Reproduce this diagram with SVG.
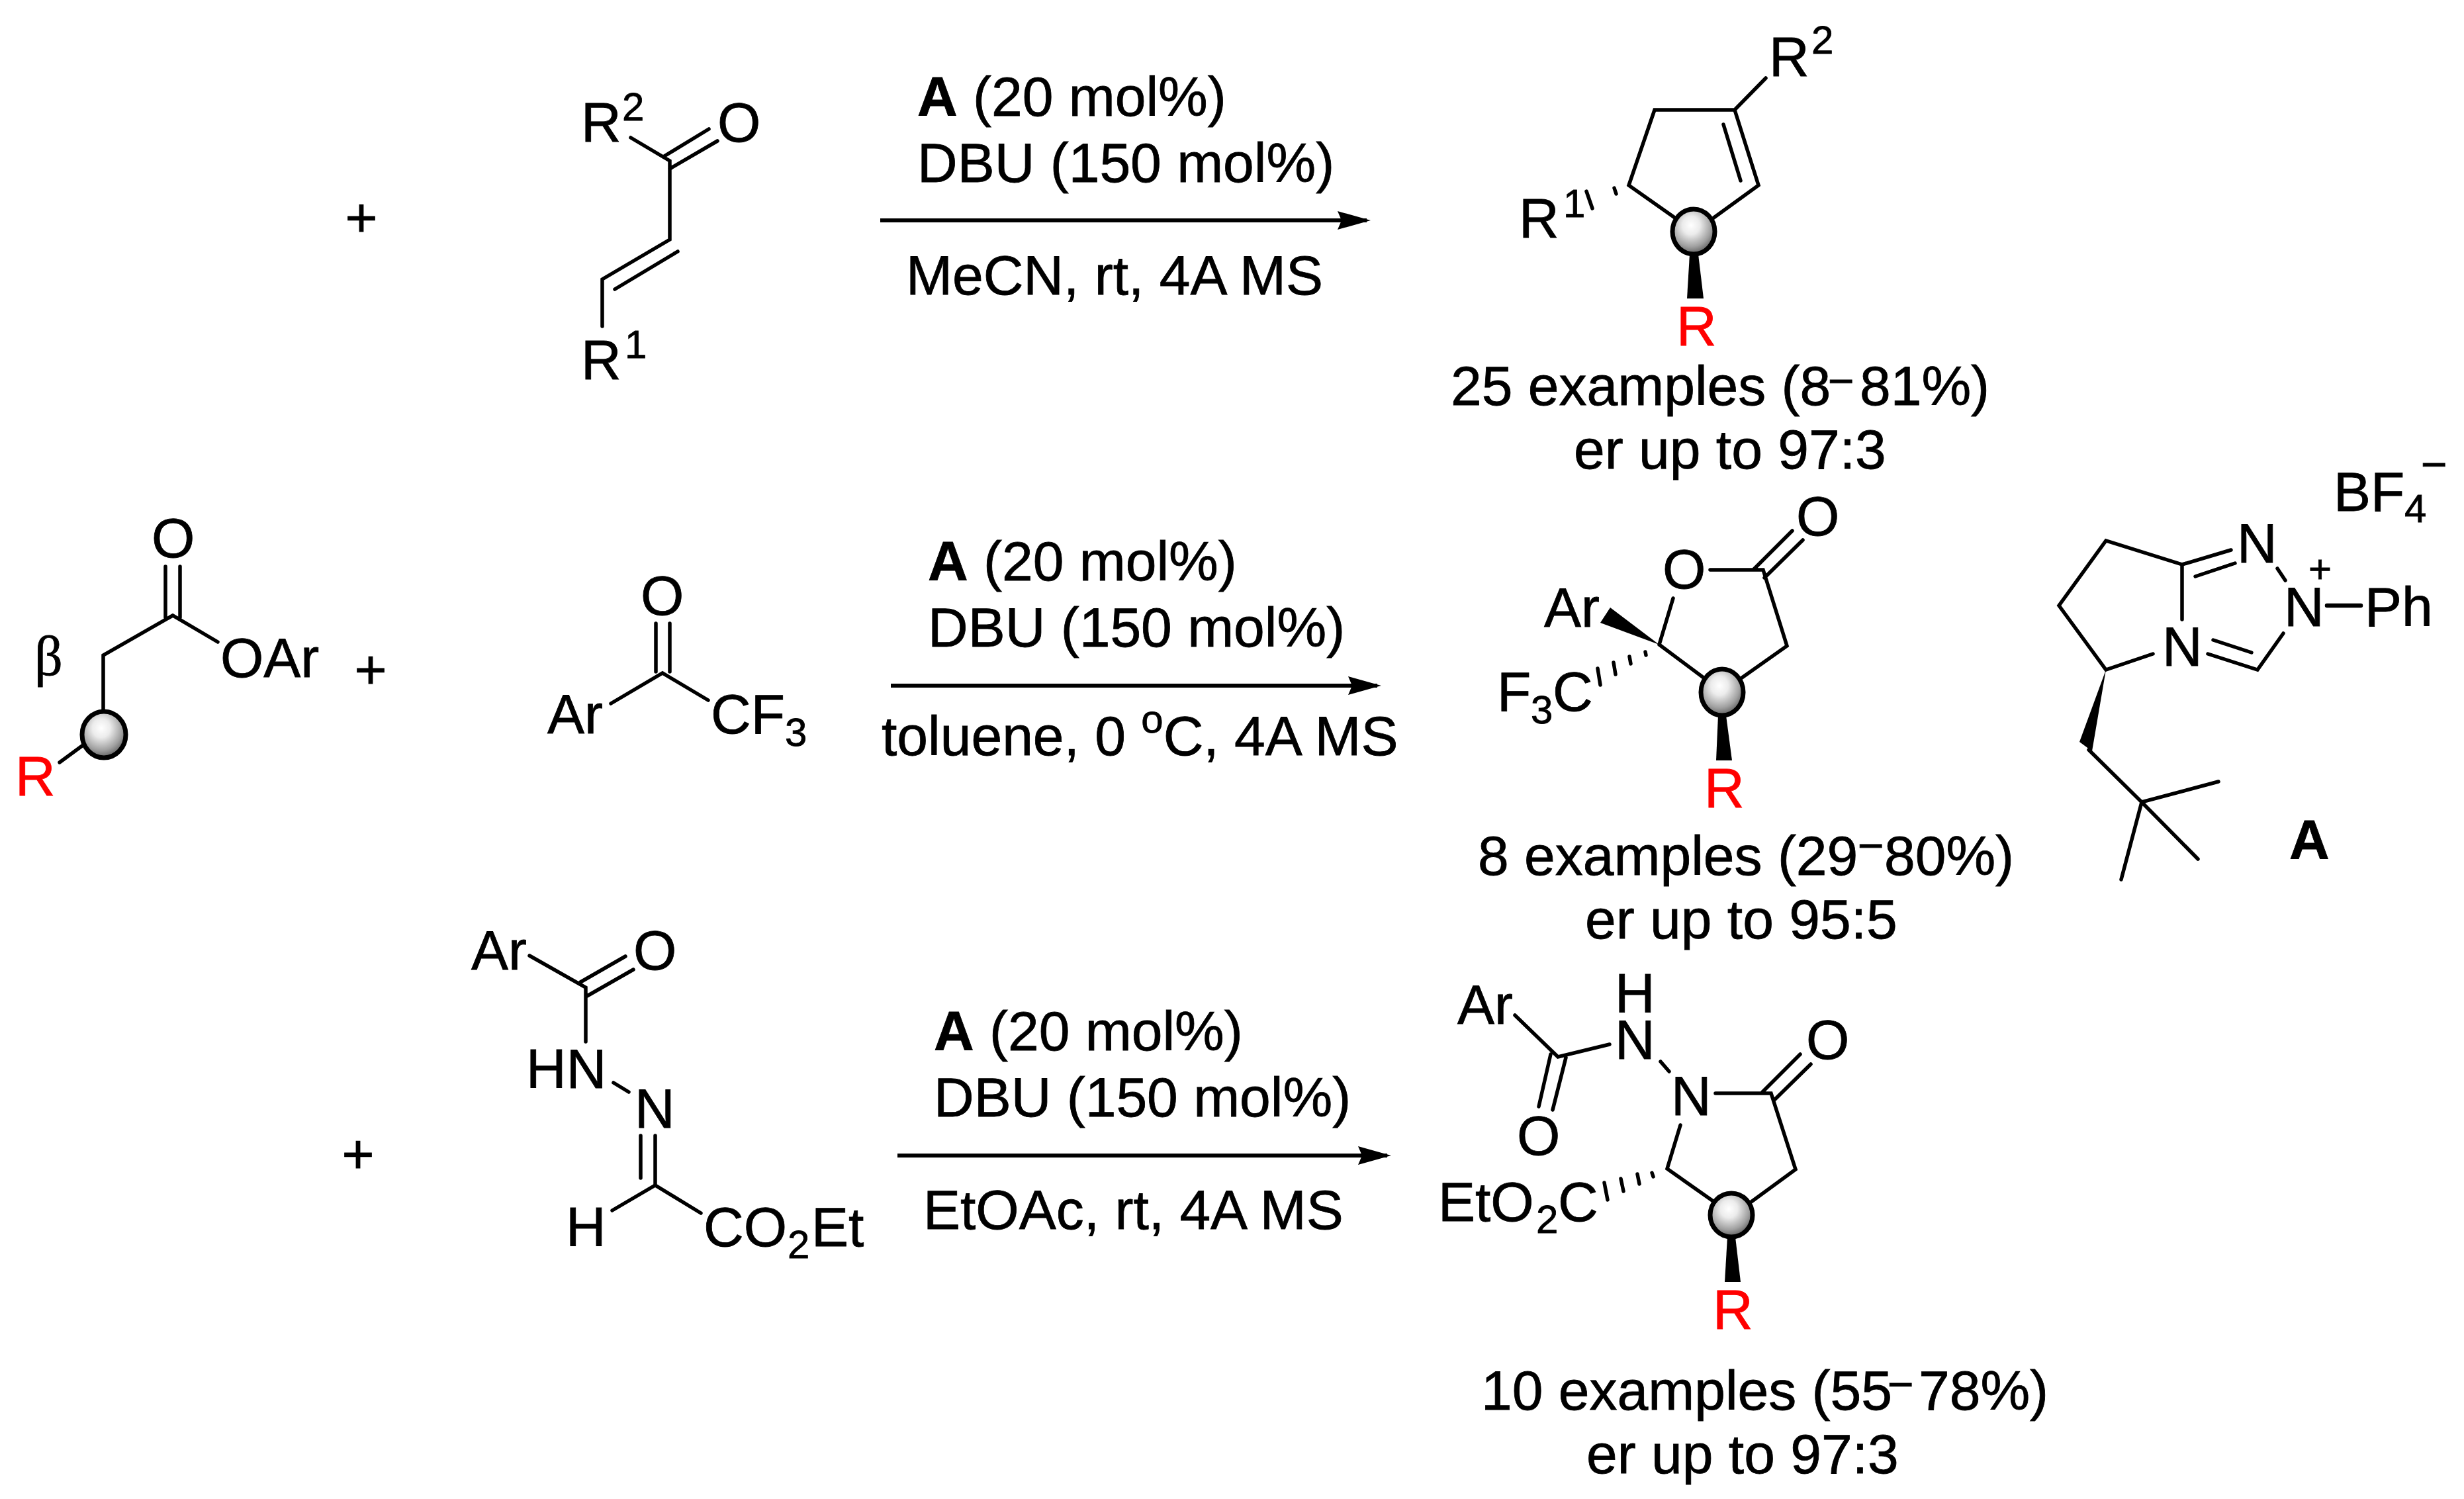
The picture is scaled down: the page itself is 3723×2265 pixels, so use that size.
<svg xmlns="http://www.w3.org/2000/svg" width="3723" height="2265" viewBox="0 0 3723 2265">
<style>
text{font-family:"Liberation Sans",Arial,sans-serif;font-size:84px;fill:#000;stroke:#000;stroke-width:.8}
.b{font-weight:bold}
.s{font-size:60px}
.m{font-size:68px}
.r{fill:#f00;stroke:#f00}
.g{font-family:"Liberation Serif","DejaVu Serif",serif}
.bond{stroke:#000;stroke-width:5.5;stroke-linecap:round;fill:none}
.ball{fill:url(#ballg);stroke:#000;stroke-width:7}
.arr{stroke:#000;stroke-width:6;fill:none;marker-end:url(#head)}
</style>
<defs>
<radialGradient id="ballg" cx="0.44" cy="0.36" r="0.68">
<stop offset="0" stop-color="#fff"/><stop offset="0.3" stop-color="#ececec"/><stop offset="0.7" stop-color="#a0a0a0"/><stop offset="1" stop-color="#505050"/>
</radialGradient>
<marker id="head" markerUnits="userSpaceOnUse" markerWidth="60" markerHeight="40" refX="44" refY="20" orient="auto">
<path d="M0,6 L50,20 L0,34 L6,20 Z" fill="#000"/>
</marker>
</defs>
<rect width="3723" height="2265" fill="#fff"/>

<g id="connectors">
<path class="arr" d="M1330,333H2065"/>
<path class="arr" d="M1346,1036H2081"/>
<path class="arr" d="M1356,1746H2096"/>
</g>

<g id="conditions-1">
<text x="1386" y="175"><tspan class="b">A</tspan> (20 mol%)</text>
<text x="1386" y="275">DBU (150 mol%)</text>
<text x="1369" y="445">MeCN, rt, 4A MS</text>
</g>
<g id="conditions-2">
<text x="1402" y="877"><tspan class="b">A</tspan> (20 mol%)</text>
<text x="1402" y="977">DBU (150 mol%)</text>
<text x="1332" y="1141">toluene, 0 <tspan class="s" dy="-34">o</tspan><tspan dy="34">C, 4A MS</tspan></text>
</g>
<g id="conditions-3">
<text x="1411" y="1587"><tspan class="b">A</tspan> (20 mol%)</text>
<text x="1411" y="1687">DBU (150 mol%)</text>
<text x="1395" y="1857">EtOAc, rt, 4A MS</text>
</g>

<g id="plus-1"><text x="546" y="357" text-anchor="middle">+</text></g>
<g id="plus-2"><text x="560" y="1040" text-anchor="middle">+</text></g>
<g id="plus-3"><text x="541" y="1772" text-anchor="middle">+</text></g>

<g id="beta-ester">
<path class="bond" d="M250,856V933M272,856V933M329,970L261,930L156,990V1075M124,1127L90,1152"/>
<ellipse class="ball" cx="157" cy="1110" rx="33" ry="35"/>
<text x="229" y="842">O</text>
<text x="333" y="1023">OAr</text>
<text class="g" x="52" y="1020">β</text>
<text class="r" x="23" y="1202">R</text>
</g>

<g id="enone">
<path class="bond" d="M953,208L1012,243V362L910,422V493M1002,237L1071,195M1012,255L1084,213M1024,380L929,437"/>
<text x="878" y="214">R<tspan class="s" x="940" y="182">2</tspan></text>
<text x="1084" y="214">O</text>
<text x="878" y="573">R<tspan class="s" x="944" y="541">1</tspan></text>
</g>

<g id="trifluoroketone">
<path class="bond" d="M991,942V1015M1012,942V1015M923,1063L1001,1017L1070,1058"/>
<text x="968" y="929">O</text>
<text x="827" y="1108">Ar</text>
<text x="1074" y="1108">CF<tspan class="s" x="1186" y="1127">3</tspan></text>
</g>

<g id="hydrazone">
<path class="bond" d="M800,1444L885,1492V1574M877,1484L945,1445M887,1505L957,1465M927,1636L950,1650M968,1716V1780M990,1716V1791M925,1829L990,1791L1059,1833"/>
<text x="712" y="1465">Ar</text>
<text x="957" y="1465">O</text>
<text x="795" y="1644">HN</text>
<text x="959" y="1704">N</text>
<text x="855" y="1883">H</text>
<text x="1063" y="1883">CO<tspan class="s" x="1190" y="1901">2</tspan><tspan x="1226" y="1883">Et</tspan></text>
</g>

<g id="product-1">
<path class="bond" d="M2668,118L2621,166H2500L2461,280L2532,330M2621,166L2657,280L2588,330M2604,188L2630,273M2397,289L2406,315M2439,284L2442,293"/>
<ellipse class="ball" cx="2559" cy="350" rx="32" ry="34"/>
<path d="M2553,384H2566L2574,451H2549Z"/>
<text x="2673" y="115">R<tspan class="s" x="2737" y="81">2</tspan></text>
<text x="2295" y="359">R<tspan class="s" x="2362" y="328">1</tspan></text>
<text class="r" x="2533" y="522">R</text>
<text x="2192" y="612">25 examples (8<tspan class="m" x="2762" y="599">−</tspan><tspan x="2810" y="612">81%)</tspan></text>
<text x="2378" y="708">er up to 97:3</text>
</g>

<g id="product-2">
<path class="bond" d="M2650,860L2708,802M2666,873L2724,816M2584,861H2664L2700,976L2632,1024M2507,974L2528,904M2507,974L2574,1024M2486,985L2487,990M2462,992L2464,1003M2438,1001L2441,1019M2414,1010L2418,1035"/>
<ellipse class="ball" cx="2602" cy="1046" rx="32" ry="35"/>
<path d="M2507,974L2418,941L2433,918Z"/>
<path d="M2596,1081H2608L2617,1149H2593Z"/>
<text x="2714" y="809">O</text>
<text x="2512" y="889">O</text>
<text x="2333" y="947">Ar</text>
<text x="2262" y="1074">F<tspan class="s" x="2313" y="1093">3</tspan><tspan x="2346" y="1074">C</tspan></text>
<text class="r" x="2575" y="1220">R</text>
<text x="2233" y="1322">8 examples (29<tspan class="m" x="2807" y="1301">−</tspan><tspan x="2847" y="1322">80%)</tspan></text>
<text x="2395" y="1418">er up to 95:5</text>
</g>

<g id="catalyst-A">
<path class="bond" d="M3297,936V853L3182,817L3111,915L3182,1012L3253,988M3297,853L3371,831M3317,871L3377,851M3441,859L3453,877M3450,957L3411,1012L3336,988M3344,967L3402,986M3156,1133L3236,1212L3352,1181M3236,1212L3321,1298M3236,1212L3205,1329"/>
<path class="bond" style="stroke-width:6.5" d="M3516,915H3567"/>
<path d="M3182,1012L3142,1121L3161,1135Z"/>
<text x="3380" y="850">N</text>
<text x="3451" y="946">N</text>
<text x="3267" y="1006">N</text>
<text class="s" x="3488" y="880">+</text>
<text x="3573" y="946">Ph</text>
<text x="3526" y="772">BF<tspan class="s" x="3633" y="789">4</tspan><tspan class="m" x="3658" y="725">−</tspan></text>
<text class="b" x="3459" y="1298">A</text>
</g>

<g id="product-3">
<path class="bond" d="M2289,1534L2354,1597L2432,1578M2343,1593L2325,1672M2366,1598L2346,1677M2509,1604L2522,1619M2592,1652H2676L2713,1767L2646,1816M2663,1650L2720,1593M2682,1661L2736,1608M2539,1700L2519,1766L2590,1816M2496,1772L2498,1778M2474,1774L2477,1789M2449,1781L2453,1800M2424,1787L2429,1813"/>
<ellipse class="ball" cx="2616" cy="1836" rx="32" ry="33"/>
<path d="M2610,1869H2622L2630,1937H2606Z"/>
<text x="2202" y="1547">Ar</text>
<text x="2440" y="1530">H</text>
<text x="2440" y="1600">N</text>
<text x="2292" y="1745">O</text>
<text x="2525" y="1685">N</text>
<text x="2729" y="1600">O</text>
<text x="2173" y="1845">EtO<tspan class="s" x="2321" y="1863">2</tspan><tspan x="2354" y="1845">C</tspan></text>
<text class="r" x="2588" y="2008">R</text>
<text x="2238" y="2130">10 examples (55<tspan class="m" x="2852" y="2115">−</tspan><tspan x="2899" y="2130">78%)</tspan></text>
<text x="2397" y="2226">er up to 97:3</text>
</g>
</svg>
